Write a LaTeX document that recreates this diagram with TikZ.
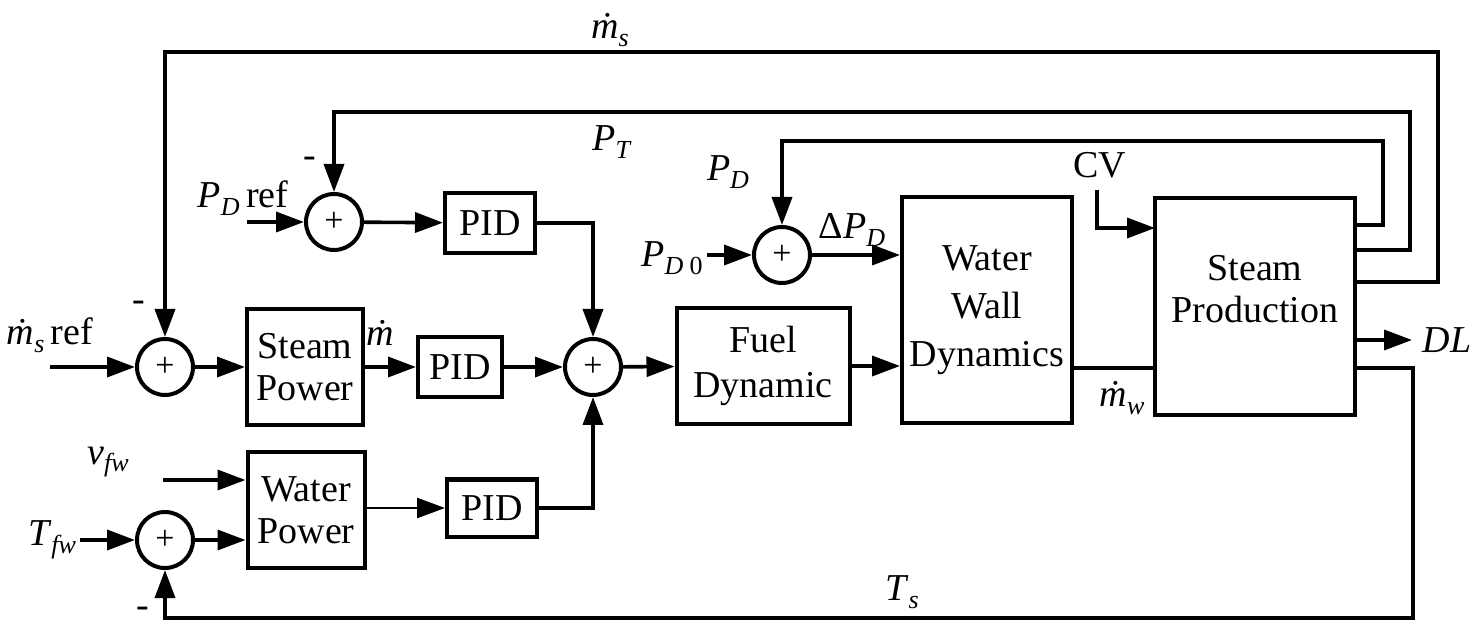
\documentclass[tikz,border=0pt]{standalone}
\usepackage{fontspec}
\setmainfont{Liberation Serif}
\usetikzlibrary{arrows.meta}
\newcommand\lsub[1]{\raisebox{-0.45ex}{\fontsize{13}{13}\selectfont\textit{#1}}}
\begin{document}
\begin{tikzpicture}[x=0.5pt,y=-0.5pt,
  wire/.style={line width=1.8pt},
  arr/.style={wire,-{Triangle[length=14pt,width=10pt]}},
  blk/.style={draw,line width=2pt,inner sep=0pt,align=center,font=\fontsize{19}{21}\selectfont},
  sumc/.style={draw,circle,line width=2pt,minimum size=28pt,inner sep=0pt,font=\fontsize{17}{17}\selectfont},
  lbl/.style={inner sep=0pt,font=\fontsize{19}{21}\selectfont}]
\useasboundingbox (0,0) rectangle (1476,624);
% summing junctions
\node[sumc] (s0) at (334,222) {+};
\node[sumc] (s1) at (165,367) {+};
\node[sumc] (s2) at (593,367) {+};
\node[sumc] (s3) at (782,255) {+};
\node[sumc] (s4) at (165,540) {+};
% blocks
\node[blk,minimum width=45pt,minimum height=30pt] (pid1) at (490,223) {PID};
\node[blk,minimum width=58pt,minimum height=58pt] (sp) at (305,367) {Steam\\Power};
\node[blk,minimum width=42pt,minimum height=30pt] (pid2) at (460,367) {PID};
\node[blk,minimum width=58.5pt,minimum height=57.5pt] (wp) at (306,510) {Water\\Power};
\node[blk,minimum width=45pt,minimum height=28.5pt] (pid3) at (492,508) {PID};
\node[blk,minimum width=86.5pt,minimum height=58pt,font=\fontsize{19}{22.5}\selectfont] (fd) at (763,366) {Fuel\\Dynamic};
\node[blk,minimum width=85pt,minimum height=113pt,font=\fontsize{19}{24}\selectfont] (ww) at (987,310) {Water\\Wall\\Dynamics};
\node[blk,minimum width=100pt,minimum height=108.5pt] (spd) at (1255,306.5) {};
\node[lbl,align=center] (spdt) at (1255,289) {Steam\\Production};
% input/output coordinates
\coordinate (inms) at (50,367);
\coordinate (inpd) at (247,222);
\coordinate (inpd0) at (707,255);
\coordinate (invfw) at (163,480);
\coordinate (intfw) at (80,540);
\coordinate (incv) at (1097,190);
\coordinate (cvt) at (1155,228);
\coordinate (opd) at (1355,225);
\coordinate (opt) at (1355,250);
\coordinate (oms) at (1355,282);
\coordinate (odl) at (1355,340);
\coordinate (ots) at (1355,368);
\coordinate (cpd1) at (1383,225);
\coordinate (cpd2) at (1383,141);
\coordinate (cpt1) at (1410,250);
\coordinate (cpt2) at (1410,112);
\coordinate (cms1) at (1438,282);
\coordinate (cms2) at (1438,52);
\coordinate (dl) at (1412,340);
\coordinate (cts1) at (1413,368);
\coordinate (cts2) at (1413,618);
% forward connections
\draw[arr] (inms) -- (s1);
\draw[arr] (s1) -- (sp);
\draw[arr] (sp) -- (pid2);
\draw[arr] (pid2) -- (s2);
\draw[arr] (s2) -- (fd);
\draw[arr] (fd.east) -- (fd.east -| ww.west);
\draw[wire] (ww.east |- ots) -- (spd.west |- ots);
\draw[arr] (inpd) -- (s0);
\draw[arr] (s0) -- (pid1);
\draw[arr] (pid1.east) -| (s2.north);
\draw[arr] (invfw) -- (invfw -| wp.west);
\draw[arr] (intfw) -- (s4);
\draw[arr] (s4) -- (s4 -| wp.west);
\draw[arr,line width=1.3pt] (wp.east |- pid3) -- (pid3.west);
\draw[arr] (pid3.east) -| (s2.south);
\draw[arr] (inpd0) -- (s3);
\draw[arr] (s3) -- (s3 -| ww.west);
\draw[arr] (incv) |- (cvt);
\draw[arr] (odl) -- (dl);
% feedback loops
\draw[arr] (opd) -- (cpd1) -- (cpd2) -| (s3.north);
\draw[arr] (opt) -- (cpt1) -- (cpt2) -| (s0.north);
\draw[arr] (oms) -- (cms1) -- (cms2) -| (s1.north);
\draw[arr] (ots) -- (cts1) -- (cts2) -| (s4.south);
% labels
\node[lbl] (lms) at (610,30) {\textit{ṁ}\lsub{s}};
\node[lbl] (lpt) at (612,142) {\textit{P}\lsub{T}};
\node[lbl] (lpd) at (728,172) {\textit{P}\lsub{D}};
\node[lbl] (lpdref) at (243,198) {\textit{P}\lsub{D}\,ref};
\node[lbl] (lmsref) at (50,335) {\textit{ṁ}\lsub{s}\,ref};
\node[lbl] (lm) at (380,333) {\textit{ṁ}};
\node[lbl] (ldpd) at (852,230) {Δ\textit{P}\lsub{D}};
\node[lbl] (lcv) at (1100,165) {CV};
\node[lbl] (lpd0) at (672,258) {\textit{P}\lsub{D}\,\raisebox{-0.45ex}{\fontsize{13}{13}\selectfont 0}};
\node[lbl] (ldl) at (1447,340) {\textit{DL}};
\node[lbl] (lmw) at (1122,398) {\textit{ṁ}\lsub{w}};
\node[lbl] (lvfw) at (108,462) {\textit{v}\lsub{fw}};
\node[lbl] (ltfw) at (52,540) {\textit{T}\lsub{fw}};
\node[lbl] (lts) at (902,592) {\textit{T}\lsub{s}};
\node[lbl] (m1) at (310,162) {-};
\node[lbl] (m2) at (139,306) {-};
\node[lbl] (m3) at (143,612) {-};
\end{tikzpicture}
\end{document}
